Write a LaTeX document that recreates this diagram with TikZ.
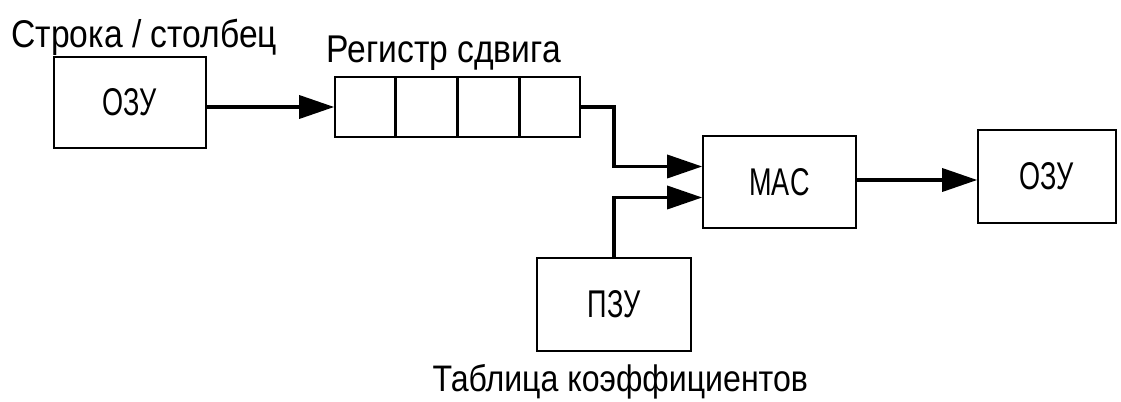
\documentclass[tikz,border=0pt]{standalone}
\usepackage{fontspec}
\setmainfont[FakeStretch=0.87]{Liberation Sans}
\newfontfamily\narrowfont[FakeStretch=0.7]{Liberation Sans}
\usetikzlibrary{arrows.meta, calc, positioning}
\tikzstyle{block} = [rectangle, draw=black, line width=0.9pt,
                     minimum width=3.06cm, minimum height=1.84cm,
                     text centered, font=\narrowfont\fontsize{22}{26}\selectfont]
\tikzstyle{caption} = [inner sep=0pt, font=\fontsize{22}{26}\selectfont]
\tikzstyle{arrow} = [line width=2pt, -{Triangle[length=0.7cm, width=0.46cm]}]
\tikzstyle{divider} = [line width=1.6pt]

\begin{document}
\begin{tikzpicture}
        \useasboundingbox (0,0) rectangle (22.42,8.02);

        %Input memory
        \node (ozuIn) [block, minimum width=3.04cm, minimum height=1.82cm] at (2.6,5.97) {ОЗУ};
        \node (ozuTitle) [caption, anchor=base west] at ($(ozuIn.north west)+(-0.84,0.18)$) {Строка / столбец};

        %Shift register
        \node (reg) [block, minimum width=4.9cm, minimum height=1.2cm] at (9.15,5.88) {};
        \foreach \i in {1,2,3}
            \draw [divider] ($(reg.north west)!\i/4!(reg.north east)$) -- ($(reg.south west)!\i/4!(reg.south east)$);
        \node (regTitle) [caption, anchor=base west] at ($(reg.north west)+(-0.16,0.28)$) {Регистр сдвига};

        %MAC and output memory
        \node (mac) [block] at (15.59,4.38) {MAC};
        \node (ozuOut) [block, minimum width=2.76cm, minimum height=1.86cm] at (20.94,4.49) {ОЗУ};

        %Coefficient ROM
        \node (pzu) [block, minimum width=3.08cm, minimum height=1.86cm] at (12.28,1.93) {ПЗУ};
        \node (pzuTitle) [caption, font=\fontsize{21}{25}\selectfont, anchor=base west] at ($(pzu.south west)+(-2.08,-0.8)$) {Таблица коэффициентов};

        %MAC inputs
        \coordinate (macInA) at ($(mac.west)+(0,0.31)$);
        \coordinate (macInB) at ($(mac.west)+(0,-0.31)$);

        %Lines
        \draw [arrow] (ozuIn.east |- reg.west) -- (reg.west);
        \draw [arrow] (reg.east) -| (pzu.north |- macInA) -- (macInA);
        \draw [arrow] (pzu.north) |- (macInB);
        \draw [arrow] (mac.east |- 0,4.42) -- (ozuOut.west |- 0,4.42);

    \end{tikzpicture}
\end{document}
